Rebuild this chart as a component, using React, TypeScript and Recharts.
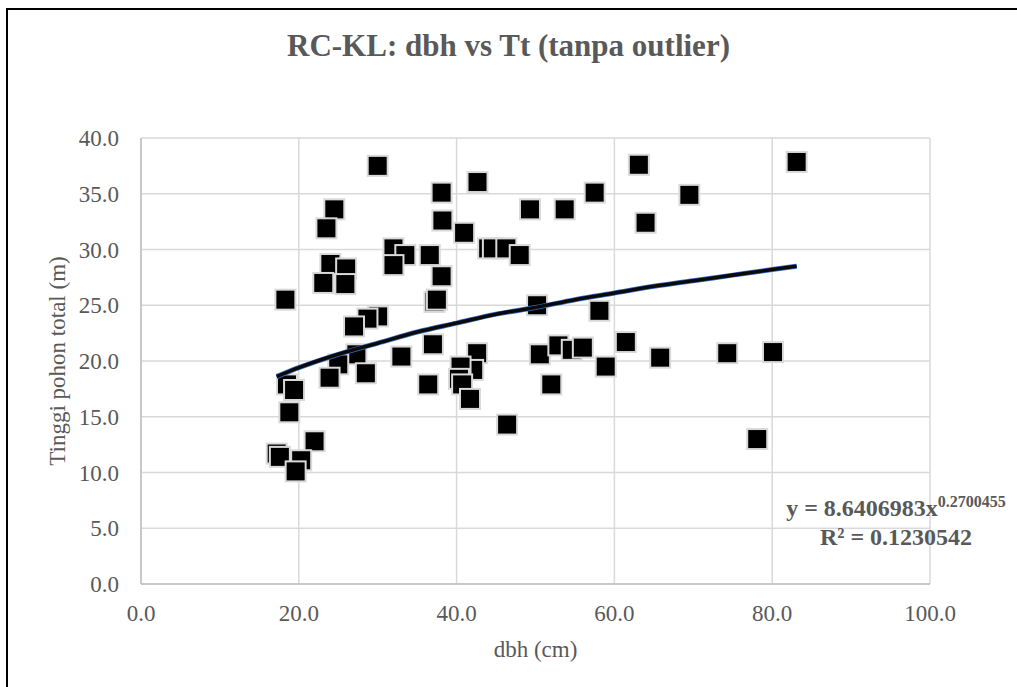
import { ScatterChart, Scatter, XAxis, YAxis, CartesianGrid } from "recharts";

// dbh (cm) and total tree height (m)
const dbhValues = [
  30.0, 24.5, 23.5, 32.0, 33.5, 32.0, 36.6, 24.0, 26.0, 23.1, 25.9, 18.3, 30.05, 28.7, 27.0, 33.0, 27.3,
  25.0, 23.9, 28.5, 18.5, 19.4, 18.8, 22.0, 17.2, 17.6, 20.3, 19.6, 36.4, 37.0, 37.2, 37.5, 38.1, 42.65,
  38.2, 40.95, 38.1, 44.0, 44.6, 46.3, 48.0, 49.3, 53.7, 57.5, 63.1, 63.95, 69.5, 50.2, 58.1, 42.6, 42.1,
  40.5, 40.3, 40.7, 41.7, 46.4, 50.55, 52.9, 54.6, 56.0, 52.0, 58.9, 61.45, 65.8, 74.3, 80.1, 78.1, 83.1,
];
const heightValues = [
  37.5, 33.6, 31.9, 30.1, 29.5, 28.6, 29.5, 28.7, 28.3, 27.0, 26.9, 25.5, 24.0, 23.8, 23.1, 20.4, 20.6,
  19.7, 18.5, 18.9, 17.9, 17.4, 15.4, 12.8, 11.7, 11.4, 11.1, 10.1, 17.9, 21.5, 25.3, 25.5, 35.1, 36.05,
  32.6, 31.5, 27.6, 30.1, 30.1, 30.1, 29.5, 33.6, 33.6, 35.1, 37.6, 32.4, 34.9, 25.0, 24.5, 20.7, 19.2,
  19.5, 18.4, 17.9, 16.6, 14.3, 20.6, 21.4, 21.0, 21.2, 17.9, 19.5, 21.7, 20.3, 20.7, 20.8, 13.0, 37.85,
];

// power trendline as drawn in the picture
const trendX = [17.2, 20, 25, 30, 35, 40, 45, 50, 55, 60, 65, 70, 75, 80, 83.1];
const trendY = [18.6, 19.4, 20.6, 21.6, 22.6, 23.4, 24.2, 24.8, 25.5, 26.1, 26.7, 27.2, 27.7, 28.2, 28.5];

const xTicks = [0, 20, 40, 60, 80, 100];
const yTicks = [0, 5, 10, 15, 20, 25, 30, 35, 40];

const points = dbhValues.map((x, i) => ({ x, y: heightValues[i] }));
const trend = trendX.map((x, i) => ({ x, y: trendY[i] }));

const FONT = "'Liberation Serif', 'Times New Roman', serif";
const GRAY = "#595959";

function SquareDot(props: any) {
  const { cx, cy } = props;
  if (cx == null || cy == null) return <g />;
  return <rect x={cx - 10} y={cy - 10} width={20} height={20} fill="#000" stroke="#d9d9d9" strokeWidth={2} />;
}

export default function App() {
  const tickStyle = { fill: GRAY, fontSize: 23, fontFamily: FONT };
  return (
    <div style={{ position: "absolute", left: 0, top: 0, width: 1017, height: 687, overflow: "hidden", background: "#fff" }}>
      <div
        style={{
          position: "absolute",
          left: 6,
          top: 8,
          width: 1100,
          height: 800,
          border: "2px solid #000",
        }}
      />
      <div
        style={{
          position: "absolute",
          left: 0,
          top: 30,
          width: 1017,
          textAlign: "center",
          fontFamily: FONT,
          fontWeight: "bold",
          fontSize: 31,
          lineHeight: "31px",
          color: GRAY,
        }}
      >
        RC-KL: dbh vs Tt (tanpa outlier)
      </div>

      <div style={{ position: "absolute", left: 0, top: 0 }}>
        <ScatterChart width={1017} height={687} margin={{ top: 138, right: 87, left: 0, bottom: 23 }}>
          <CartesianGrid stroke="#d9d9d9" strokeWidth={1.5} />
          <XAxis
            type="number"
            dataKey="x"
            domain={[0, 100]}
            ticks={xTicks}
            tickFormatter={(v: number) => v.toFixed(1)}
            tick={tickStyle}
            tickLine={false}
            tickSize={0}
            tickMargin={21}
            height={80}
            axisLine={{ stroke: "#bfbfbf", strokeWidth: 1.5 }}
            label={{
              value: "dbh (cm)",
              position: "insideBottom",
              offset: 7,
              style: { fill: GRAY, fontSize: 23, fontFamily: FONT },
            }}
          />
          <YAxis
            type="number"
            dataKey="y"
            domain={[0, 40]}
            ticks={yTicks}
            tickFormatter={(v: number) => v.toFixed(1)}
            tick={tickStyle}
            tickLine={false}
            tickSize={0}
            tickMargin={22}
            width={141}
            axisLine={{ stroke: "#bfbfbf", strokeWidth: 1.5 }}
            label={{
              value: "Tinggi pohon total (m)",
              angle: -90,
              position: "insideLeft",
              offset: 57,
              style: { fill: GRAY, fontSize: 23, fontFamily: FONT, textAnchor: "middle" },
            }}
          />
          <Scatter data={points} shape={SquareDot} isAnimationActive={false} />
          <Scatter
            data={trend}
            shape={() => <g />}
            line={{ stroke: "#3a6fc4", strokeWidth: 5 }}
            lineJointType="monotoneX"
            isAnimationActive={false}
          />
          <Scatter
            data={trend}
            shape={() => <g />}
            line={{ stroke: "#0a0a0a", strokeWidth: 3.6 }}
            lineJointType="monotoneX"
            isAnimationActive={false}
          />
        </ScatterChart>
      </div>

      <div
        style={{
          position: "absolute",
          left: 746,
          top: 495,
          width: 300,
          textAlign: "center",
          fontFamily: FONT,
          fontWeight: "bold",
          fontSize: 24,
          lineHeight: "27px",
          color: GRAY,
        }}
      >
        <div>
          y = 8.6406983x<span style={{ fontSize: 16, position: "relative", top: -9 }}>0.2700455</span>
        </div>
        <div>R² = 0.1230542</div>
      </div>
    </div>
  );
}
